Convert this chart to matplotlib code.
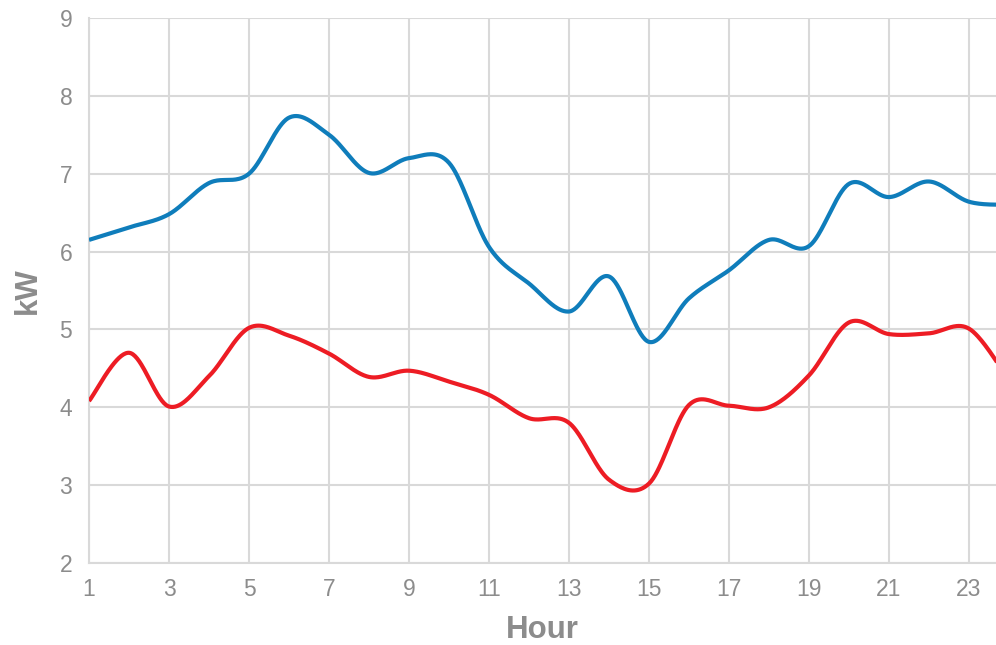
import numpy as np
import matplotlib
matplotlib.use("Agg")
import matplotlib.pyplot as plt

hours = list(range(1, 25))
series_blue = [6.15, 6.31, 6.48, 6.88, 7.00, 7.72, 7.50, 7.01, 7.20, 7.14, 6.06, 5.59,
               5.23, 5.68, 4.84, 5.40, 5.76, 6.15, 6.07, 6.87, 6.70, 6.90, 6.64, 6.60]
series_red = [4.08, 4.70, 4.01, 4.40, 5.02, 4.92, 4.69, 4.39, 4.47, 4.33, 4.16, 3.86,
              3.80, 3.07, 3.02, 4.03, 4.02, 4.00, 4.41, 5.09, 4.94, 4.95, 5.01, 4.35]
x_ticks = list(range(1, 24, 2))
y_ticks = list(range(2, 10))

BLUE = "#0F7DBB"
RED = "#ED1C24"
GRID = "#D9D9D9"
TEXT = "#8C8C8C"


def smooth(x, y, n=40):
    """Cubic Bezier smoothing through every point (Catmull-Rom control points)."""
    x = np.asarray(x, float)
    y = np.asarray(y, float)
    px = np.concatenate([[x[0]], x, [x[-1]]])
    py = np.concatenate([[y[0]], y, [y[-1]]])
    t = np.linspace(0, 1, n)[:, None]
    xs, ys = [], []
    for i in range(len(x) - 1):
        p0 = np.array([px[i + 1], py[i + 1]])
        p3 = np.array([px[i + 2], py[i + 2]])
        c1 = p0 + (np.array([px[i + 2], py[i + 2]]) - np.array([px[i], py[i]])) / 6
        c2 = p3 - (np.array([px[i + 3], py[i + 3]]) - np.array([px[i + 1], py[i + 1]])) / 6
        pts = ((1 - t) ** 3) * p0 + 3 * ((1 - t) ** 2) * t * c1 + 3 * (1 - t) * t ** 2 * c2 + t ** 3 * p3
        xs.append(pts[:, 0])
        ys.append(pts[:, 1])
    return np.concatenate(xs), np.concatenate(ys)


plt.rcParams["font.family"] = ["Liberation Sans", "DejaVu Sans"]

fig = plt.figure(figsize=(9.96, 6.45), dpi=100)
ax = fig.add_axes([89 / 996, 1 - 563 / 645, (996 - 89) / 996, (563 - 18) / 645])

for ys, col in ((series_blue, BLUE), (series_red, RED)):
    sx, sy = smooth(hours, ys)
    ax.plot(sx, sy, color=col, lw=3, solid_capstyle="butt", zorder=3)

ax.set_xlim(1, 23.675)
ax.set_ylim(2, 9)
ax.set_xticks(x_ticks)
ax.set_yticks(y_ticks)
ax.grid(True, color=GRID, lw=1.5, zorder=0)
ax.tick_params(length=0, labelsize=16.5, colors=TEXT, pad=12)
ax.tick_params(axis="x", pad=11)

for side in ("top", "right"):
    ax.spines[side].set_visible(False)
for side in ("left", "bottom"):
    ax.spines[side].set_color(GRID)
    ax.spines[side].set_linewidth(1.5)

ax.set_xlabel("Hour", fontsize=22.5, fontweight="bold", color=TEXT, labelpad=10)
ax.set_ylabel("kW", fontsize=22.5, fontweight="bold", color=TEXT, labelpad=12)

fig.savefig("out.png", dpi=100)
